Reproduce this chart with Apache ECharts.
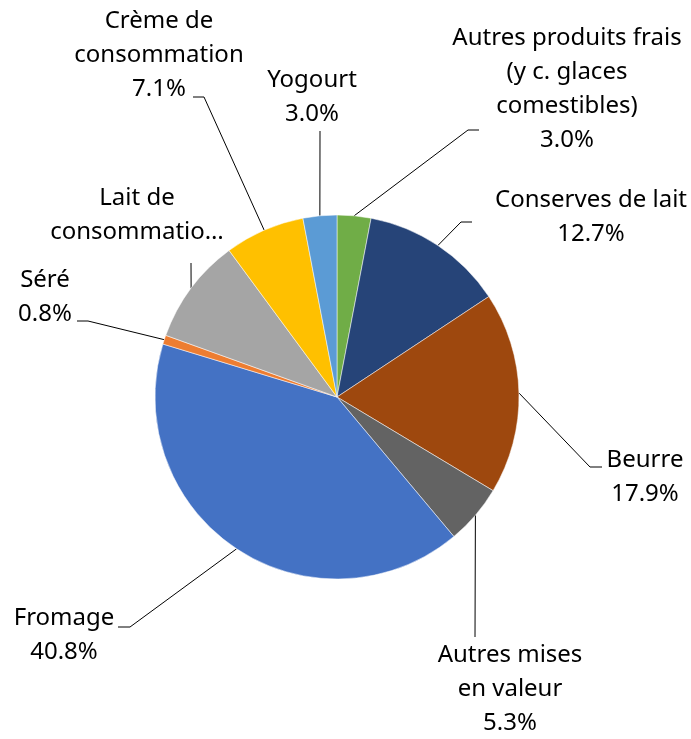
<!DOCTYPE html>
<html>
<head>
<meta charset="utf-8">
<script src="https://cdn.jsdelivr.net/npm/echarts@6/dist/echarts.min.js"></script>
<style>
  html, body { margin: 0; padding: 0; background: #fff; }
  #chart { width: 691px; height: 739px; }
</style>
</head>
<body>
<div id="chart"></div>
<script>
// slices, clockwise from the top
const categories = [
  'Autres produits frais (y c. glaces comestibles)',
  'Conserves de lait',
  'Beurre',
  'Autres mises en valeur',
  'Fromage',
  'Séré',
  'Lait de consommation',
  'Crème de consommation',
  'Yogourt'
]
const values = [3.0, 12.7, 17.9, 5.3, 40.8, 0.8, 9.4, 7.1, 3.0]
// label text as shown (Excel wrapped / truncated it)
const labelNames = [
  'Autres produits frais\n(y c. glaces\ncomestibles)',
  'Conserves de lait',
  'Beurre',
  'Autres mises\nen valeur',
  'Fromage',
  'Séré',
  'Lait de\nconsommatio…',
  'Crème de\nconsommation',
  'Yogourt'
]
const showPercent = [true, true, true, true, true, true, false, true, true]
const colors = ['#70AD47', '#264478', '#9E480E', '#636363', '#4472C4', '#ED7D31', '#A5A5A5', '#FFC000', '#5B9BD5']

// label placement: top-centre of each text block, and leader line bend / end
const labelAnchor = [[567, 21], [591, 183], [645, 443], [510, 638], [64, 601], [45, 263], [137, 181], [159, 4], [312, 63]]
const leaderPts = [
  [[468, 130], [479, 130]],
  [[461, 222], [472, 222]],
  [[590, 467], [602, 467]],
  [[475, 637], [475, 637]],
  [[130, 627], [118, 627]],
  [[88, 321], [77, 321]],
  [[191, 263], [191, 263]],
  [[204, 97], [193, 97]],
  [[320, 131], [320, 131]]
]

const chart = echarts.init(document.getElementById('chart'))

chart.setOption({
  animation: false,
  series: [{
    type: 'pie',
    center: [337, 397],
    radius: 182,
    startAngle: 90,
    clockwise: true,
    avoidLabelOverlap: false,
    data: categories.map((name, i) => ({
      name,
      value: values[i],
      itemStyle: { color: colors[i] }
    })),
    itemStyle: {
      borderColor: '#fff',
      borderWidth: 0.5
    },
    label: {
      show: true,
      position: 'outside',
      color: '#000',
      fontFamily: 'Noto Sans',
      fontSize: 24,
      lineHeight: 34,
      formatter: p => labelNames[p.dataIndex] + (showPercent[p.dataIndex] ? '\n' + values[p.dataIndex].toFixed(1) + '%' : '')
    },
    labelLine: {
      show: true,
      lineStyle: { color: '#000', width: 1 }
    },
    labelLayout: params => {
      const i = params.dataIndex
      const edge = params.labelLinePoints[0]
      return {
        x: labelAnchor[i][0],
        y: labelAnchor[i][1],
        align: 'center',
        verticalAlign: 'top',
        labelLinePoints: [edge, leaderPts[i][0], leaderPts[i][1]]
      }
    }
  }]
})
</script>
</body>
</html>
